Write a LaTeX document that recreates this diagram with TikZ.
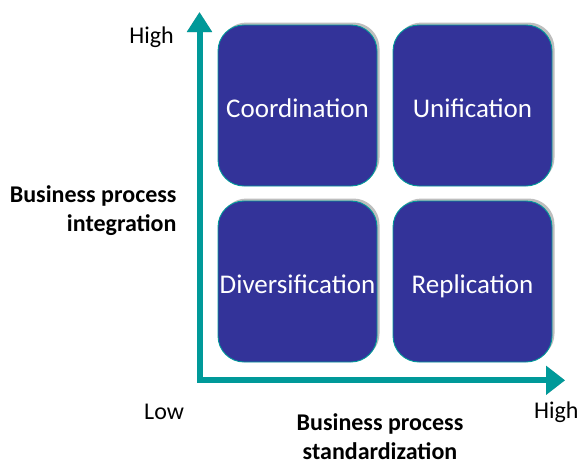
\documentclass[tikz,border=0pt]{standalone}
\usepackage{fontspec}
\setmainfont{Carlito}
\usetikzlibrary{arrows.meta,shadows}
\definecolor{boxblue}{RGB}{51,51,153}
\definecolor{axisteal}{RGB}{0,153,153}
\definecolor{shadowgray}{RGB}{190,190,190}
\tikzset{
  quad/.style={rectangle, rounded corners=26pt, minimum width=159pt, minimum height=161pt,
    fill=boxblue, draw=axisteal, line width=0.9pt, text=white, inner sep=0pt,
    text height=24pt, text depth=0pt,
    font=\fontsize{27}{32}\selectfont,
    drop shadow={shadow xshift=2.5pt, shadow yshift=2.5pt, fill=shadowgray, opacity=1}},
  axisline/.style={line width=6pt, line join=miter, {Triangle[width=24pt,length=20pt]}-{Triangle[width=28pt,length=19pt]}},
  lbl/.style={inner sep=0pt, font=\fontsize{24}{29}\selectfont},
  blbl/.style={inner sep=0pt, font=\fontsize{24}{29}\selectfont\bfseries}
}
\begin{document}
\begin{tikzpicture}[x=1pt,y=-1pt]
\useasboundingbox (0,0) rectangle (578,464);
% axes
\coordinate (ytop) at (199.5,12);
\coordinate (o) at (199.5,380.3);
\coordinate (xend) at (565,380.3);
\draw[axisline, shadowgray, xshift=2.5pt, yshift=2.5pt] (ytop) -- (o) -- (xend);
\draw[axisline, axisteal] (ytop) -- (o) -- (xend);
% quadrants
\node[quad] (coord) at (297.5,105.5) {Coordination};
\node[quad] (unif) at (472.5,105.5) {Unification};
\node[quad] (div) at (297.5,281.5) {Diversification};
\node[quad] (repl) at (472.5,281.5) {Replication};
% labels
\node[lbl, anchor=base east] (yhigh) at (174,43) {High};
\node[lbl, anchor=base west] (xlow) at (144,419) {Low};
\node[lbl, anchor=base west] (xhigh) at (534,418.3) {High};
\node[blbl, anchor=base east, align=right] (ylabel) at (176.7,231.5) {Business process\\integration};
\node[blbl, anchor=base, align=center] (xlabel) at (380,459.3) {Business process\\standardization};
\end{tikzpicture}
\end{document}
